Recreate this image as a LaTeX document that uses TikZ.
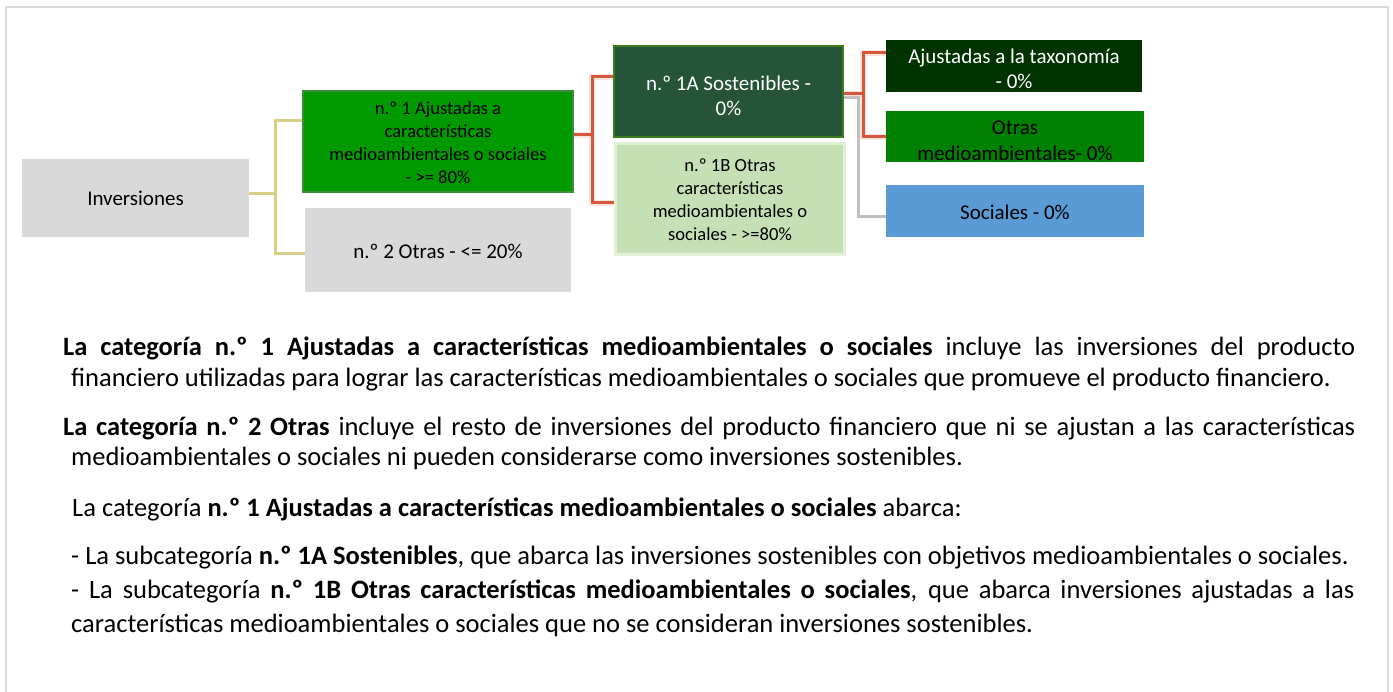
\documentclass[tikz,border=0pt]{standalone}
\usepackage{fontspec}
\setmainfont{Carlito}
\definecolor{cgray}{RGB}{217,217,217}
\definecolor{cframe}{RGB}{217,217,217}
\definecolor{cn1}{RGB}{0,153,0}
\definecolor{cn1b}{RGB}{60,140,60}
\definecolor{cs1a}{RGB}{38,84,56}
\definecolor{cs1ab}{RGB}{60,125,30}
\definecolor{cs1b}{RGB}{197,224,180}
\definecolor{cs1bb}{RGB}{226,240,214}
\definecolor{ctax}{RGB}{0,51,0}
\definecolor{cotr}{RGB}{0,128,0}
\definecolor{csoc}{RGB}{91,155,213}
\definecolor{cyel}{RGB}{214,208,132}
\definecolor{cred}{RGB}{214,88,60}
\definecolor{cgl}{RGB}{192,192,192}
\newcommand{\lowtext}[2]{\raisebox{-#1}[\height][\depth]{\begin{tabular}{@{}c@{}}#2\end{tabular}}}
\begin{document}
\begin{tikzpicture}[x=1pt,y=-1pt,
  box/.style={inner sep=0pt, align=center, text=black},
  small/.style={font=\fontsize{18.6}{23}\selectfont},
  big/.style={font=\fontsize{21}{25.5}\selectfont},
  yel/.style={draw=cyel, line width=3pt},
  redl/.style={draw=cred, line width=3pt},
  redh/.style={draw=cred!40, line width=6pt, opacity=0.4},
  grl/.style={draw=cgl, line width=3pt},
  txt/.style={inner sep=0pt, anchor=base west, font=\fontsize{26.5}{31}\selectfont}]
\useasboundingbox (0,0) rectangle (1393,692);
% frame
\draw[cframe, line width=2pt] (6,692) -- (6,7) -- (1388,7) -- (1388,692);

% boxes
\node[box, big, fill=cgray, minimum width=227pt, minimum height=78pt] (inv) at (135.5,198) {Inversiones};
\node[box, small, fill=cn1, draw=cn1b, line width=1.5pt, minimum width=270pt, minimum height=101pt] (n1) at (438,141.5) {\lowtext{3pt}{n.º 1 Ajustadas a\\características\\medioambientales o sociales\\- >= 80\%}};
\node[box, big, fill=cgray, minimum width=266pt, minimum height=84pt] (n2) at (438,250) {\lowtext{3.5pt}{n.º 2 Otras - <= 20\%}};
\node[box, big, text=white, fill=cs1a, draw=cs1ab, line width=1.5pt, minimum width=229pt, minimum height=91pt] (s1a) at (728.5,91.5) {\lowtext{6.5pt}{n.º 1A Sostenibles -\\0\%}};
\node[box, small, fill=cs1b, draw=cs1bb, line width=3pt, minimum width=229pt, minimum height=111pt] (s1b) at (730,199) {\lowtext{2.5pt}{n.º 1B Otras\\características\\medioambientales o\\sociales - >=80\%}};
\node[box, big, text=white, fill=ctax, minimum width=256pt, minimum height=52pt] (tax) at (1014,66) {\lowtext{5pt}{Ajustadas a la taxonomía\\- 0\%}};
\node[box, big, fill=cotr, minimum width=258pt, minimum height=51pt] (otr) at (1015,136.5) {\lowtext{6pt}{Otras\\medioambientales- 0\%}};
\node[box, big, fill=csoc, minimum width=258pt, minimum height=52pt] (soc) at (1015,211) {\lowtext{3pt}{Sociales - 0\%}};

% connector junctions
\coordinate (ym) at (275,194);
\coordinate (yt) at (275,121);
\coordinate (yb) at (275,254);
\coordinate (rm) at (592,135);
\coordinate (rt) at (592,77);
\coordinate (rb) at (592,203);
\coordinate (qm) at (863,94);
\coordinate (qt) at (863,53);
\coordinate (qb) at (863,137);
\coordinate (gm) at (858,98);
\coordinate (gb) at (858,217);

% yellow
\draw[yel] (inv.east|-ym) -- (ym);
\draw[yel] (n1.west|-yt) -- (yt) -- (yb) -- (n2.west|-yb);
% gray
\draw[grl] (s1a.east|-gm) -- (gm) -- (gb) -- (soc.west|-gb);
% red halos
\draw[redh] (n1.east|-rm) -- (rm);
\draw[redh] (s1a.west|-rt) -- (rt) -- (rb) -- (s1b.west|-rb);
\draw[redh] (s1a.east|-qm) -- (qm);
\draw[redh] (tax.west|-qt) -- (qt) -- (qb) -- (otr.west|-qb);
% red
\draw[redl] (n1.east|-rm) -- (rm);
\draw[redl] (s1a.west|-rt) -- (rt) -- (rb) -- (s1b.west|-rb);
\draw[redl] (s1a.east|-qm) -- (qm);
\draw[redl] (tax.west|-qt) -- (qt) -- (qb) -- (otr.west|-qb);

% body text
\node[txt] (p1a) at (63,356) {\makebox[1292pt][s]{\textbf{La categoría n.º 1 Ajustadas a características medioambientales o sociales} incluye las inversiones del producto}};
\node[txt] (p1b) at (71,387) {financiero utilizadas para lograr las características medioambientales o sociales que promueve el producto financiero.};
\node[txt] (p2a) at (63,436) {\makebox[1292pt][s]{\textbf{La categoría n.º 2 Otras} incluye el resto de inversiones del producto financiero que ni se ajustan a las características}};
\node[txt] (p2b) at (71,466) {medioambientales o sociales ni pueden considerarse como inversiones sostenibles.};
\node[txt] (p3) at (72,516) {La categoría \textbf{n.º 1 Ajustadas a características medioambientales o sociales} abarca:};
\node[txt] (p4) at (71,564) {- La subcategoría \textbf{n.º 1A Sostenibles}, que abarca las inversiones sostenibles con objetivos medioambientales o sociales.};
\node[txt] (p5a) at (71,598) {\makebox[1283pt][s]{- La subcategoría \textbf{n.º 1B Otras características medioambientales o sociales}, que abarca inversiones ajustadas a las}};
\node[txt] (p5b) at (71,632) {características medioambientales o sociales que no se consideran inversiones sostenibles.};
\end{tikzpicture}
\end{document}
